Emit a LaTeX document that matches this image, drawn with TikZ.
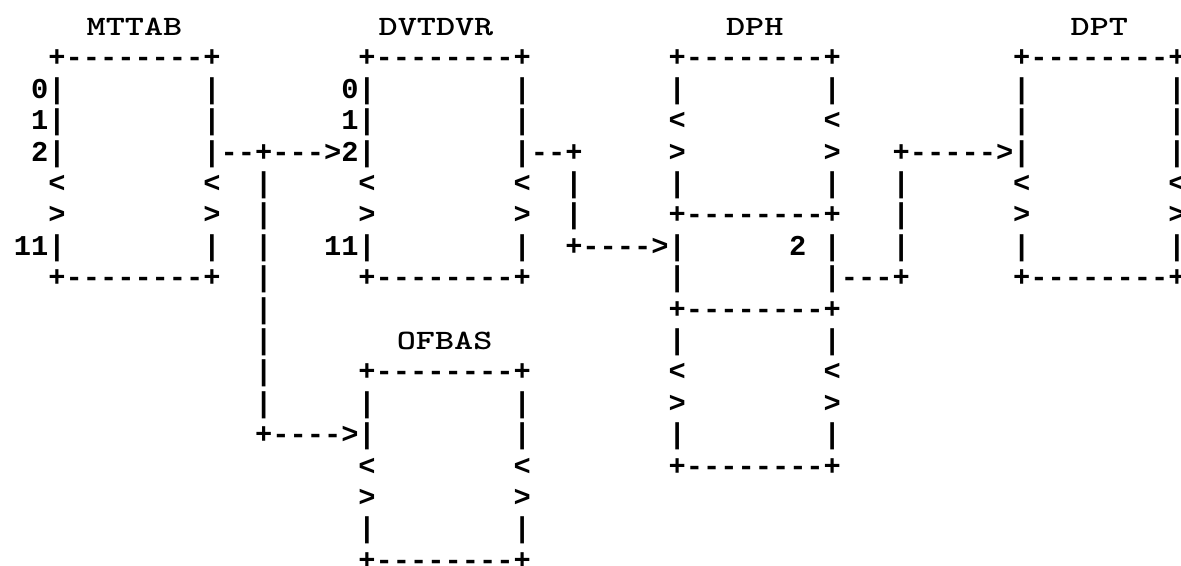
\documentclass[tikz,border=0pt]{standalone}
\usepackage{fontspec}
\setmonofont{Liberation Mono}
\usepackage{graphicx}
\usetikzlibrary{positioning}
\newcommand{\boxtitle}[1]{\scalebox{1.3}[1]{#1}}

\begin{document}
\begin{tikzpicture}[x=8.615pt, y=-15.7pt,
    asc/.style={font=\ttfamily\bfseries\fontsize{14.36pt}{15.7pt}\selectfont, inner sep=0pt, outer sep=0pt, anchor=base west},
    ttl/.style={font=\fontfamily{lmtt}\bfseries\fontsize{14pt}{16pt}\selectfont, inner sep=0pt, outer sep=0pt, anchor=base}]
  \useasboundingbox (-6.94pt,17.75pt) rectangle (583.56pt,-265.25pt);

  % titles
  \node[ttl] (mttab) at (7,0) {\boxtitle{MTTAB}};
  \node[ttl] (dvtdvr) at (24.5,0) {\boxtitle{DVTDVR}};
  \node[ttl] (dph) at (43,0) {\boxtitle{DPH}};
  \node[ttl] (dpt) at (63,0) {\boxtitle{DPT}};
  \node[ttl] (ofbas) at (25,10) {\boxtitle{OFBAS}};

  % MTTAB and DVTDVR tables
  \foreach \bx/\nm in {2/mttab, 20/dvtdvr} {
    \node[asc] (\nm-top) at (\bx,1) {+--------+};
    \node[asc] (\nm-0) at (\bx-1,2) {0|};
    \node[asc] (\nm-1) at (\bx-1,3) {1|};
    \node[asc] (\nm-2) at (\bx-1,4) {2|};
    \node[asc] (\nm-lt) at (\bx,5) {<};
    \node[asc] (\nm-gt) at (\bx,6) {>};
    \node[asc] (\nm-11) at (\bx-2,7) {11|};
    \node[asc] (\nm-bot) at (\bx,8) {+--------+};
    \foreach \r in {2,3,4,7}
      \node[asc] (\nm-r\r) at (\bx+9,\r) {|};
    \node[asc] (\nm-rlt) at (\bx+9,5) {<};
    \node[asc] (\nm-rgt) at (\bx+9,6) {>};
  }

  % DPH
  \node[asc] (dph-top) at (38,1) {+--------+};
  \node[asc] (dph-m1) at (38,6) {+--------+};
  \node[asc] (dph-m2) at (38,9) {+--------+};
  \node[asc] (dph-bot) at (38,14) {+--------+};
  \foreach \r in {2,5,7,8,10,13} {
    \node[asc] (dph-l\r) at (38,\r) {|};
    \node[asc] (dph-r\r) at (47,\r) {|};
  }
  \foreach \r in {3,11} {
    \node[asc] (dph-llt\r) at (38,\r) {<};
    \node[asc] (dph-rlt\r) at (47,\r) {<};
  }
  \foreach \r in {4,12} {
    \node[asc] (dph-lgt\r) at (38,\r) {>};
    \node[asc] (dph-rgt\r) at (47,\r) {>};
  }
  \node[asc] (dph-two) at (45,7) {2};

  % DPT
  \node[asc] (dpt-top) at (58,1) {+--------+};
  \node[asc] (dpt-bot) at (58,8) {+--------+};
  \foreach \r in {2,3,4,7} {
    \node[asc] (dpt-l\r) at (58,\r) {|};
    \node[asc] (dpt-r\r) at (67,\r) {|};
  }
  \node[asc] (dpt-llt) at (58,5) {<};
  \node[asc] (dpt-rlt) at (67,5) {<};
  \node[asc] (dpt-lgt) at (58,6) {>};
  \node[asc] (dpt-rgt) at (67,6) {>};

  % OFBAS
  \node[asc] (ofbas-top) at (20,11) {+--------+};
  \node[asc] (ofbas-bot) at (20,17) {+--------+};
  \foreach \r in {12,13,16} {
    \node[asc] (ofbas-l\r) at (20,\r) {|};
    \node[asc] (ofbas-r\r) at (29,\r) {|};
  }
  \node[asc] (ofbas-llt) at (20,14) {<};
  \node[asc] (ofbas-rlt) at (29,14) {<};
  \node[asc] (ofbas-lgt) at (20,15) {>};
  \node[asc] (ofbas-rgt) at (29,15) {>};

  % links
  \node[asc] (lnk-a) at (12,4) {--+--->};
  \foreach \r in {5,...,12}
    \node[asc] (lnk-a\r) at (14,\r) {|};
  \node[asc] (lnk-b) at (14,13) {+---->};
  \node[asc] (lnk-c) at (30,4) {--+};
  \foreach \r in {5,6}
    \node[asc] (lnk-c\r) at (32,\r) {|};
  \node[asc] (lnk-d) at (32,7) {+---->};
  \node[asc] (lnk-e) at (48,8) {---+};
  \foreach \r in {5,6,7}
    \node[asc] (lnk-e\r) at (51,\r) {|};
  \node[asc] (lnk-f) at (51,4) {+----->};
\end{tikzpicture}
\end{document}
